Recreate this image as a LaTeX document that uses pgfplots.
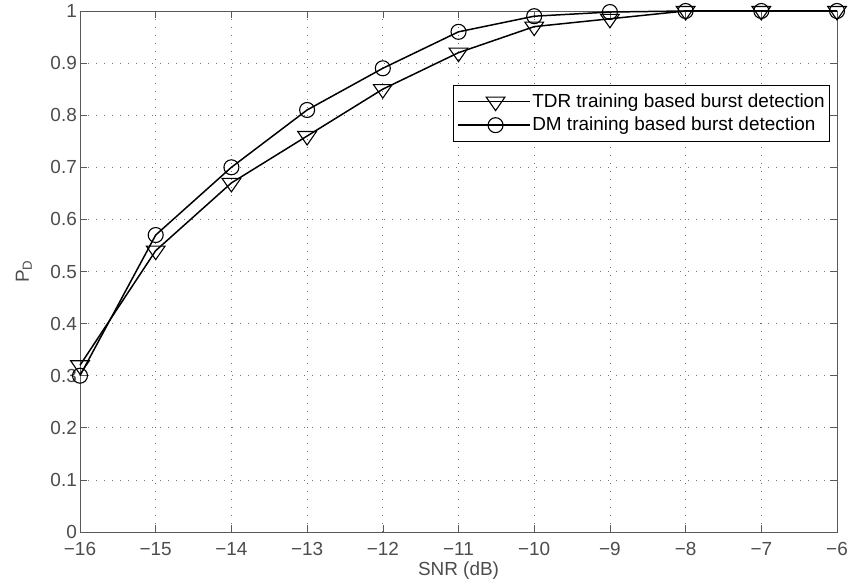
\documentclass[border=0pt]{standalone}
\usepackage{pgfplots}
\pgfplotsset{compat=1.18}
\usepackage{fontspec}
\setmainfont{Liberation Sans}
\begin{document}
\fontsize{19}{21}\selectfont
\begin{tikzpicture}[x=1bp,y=1bp]
\path[use as bounding box] (-80,-51) rectangle (768,532);
\begin{axis}[
  at={(0,0)}, anchor=south west,
  width=757bp, height=521bp, scale only axis,
  xmin=-16, xmax=-6, ymin=0, ymax=1,
  xtick={-16,...,-6},
  xticklabels={−16,−15,−14,−13,−12,−11,−10,−9,−8,−7,−6},
  ytick={0,0.1,...,1},
  yticklabels={0,0.1,0.2,0.3,0.4,0.5,0.6,0.7,0.8,0.9,1},
  tick align=inside, tick pos=both,
  major tick length=7bp,
  tick style={black!65, line width=0.6pt},
  axis line style={black!65, line width=0.8pt},
  ticklabel style={text=black!70, font=\fontsize{19}{21}\selectfont, inner sep=1bp},
  xticklabel style={yshift=-9bp},
  yticklabel style={xshift=-2bp},
  grid=major,
  grid style={dash pattern=on 1bp off 7bp, black!55, line width=0.7pt},
  xlabel={SNR (dB)},
  ylabel={P$_{\mathrm{D}}$},
  label style={text=black!70, font=\fontsize{19}{21}\selectfont},
  xlabel style={yshift=1bp},
  ylabel style={yshift=11bp},
  legend style={at={(0.991,0.858)}, anchor=north east, draw=black, line width=0.8pt,
    font=\fontsize{19}{21}\selectfont, inner ysep=6bp, inner xsep=3pt, row sep=3bp},
  legend cell align=left,
  legend image code/.code={\path (-10bp,0bp) -- (62bp,0bp);
    \draw[line width=1.5pt, mark repeat=2, mark phase=2] plot coordinates {(0bp,0bp) (28bp,0bp) (56bp,0bp)};},
  clip=false,
]
\addplot[black, line width=1.5pt, mark=triangle, mark options={rotate=180, xscale=1.2, solid, fill=white, line width=1.1pt}, mark size=9bp]
  coordinates {(-16,0.32) (-15,0.54) (-14,0.67) (-13,0.76) (-12,0.85) (-11,0.92) (-10,0.97) (-9,0.985) (-8,1) (-7,1) (-6,1)};
\addlegendentry{TDR training based burst detection}
\addplot[black, line width=1.5pt, mark=o, mark options={solid, line width=1.1pt}, mark size=7.5bp]
  coordinates {(-16,0.30) (-15,0.57) (-14,0.70) (-13,0.81) (-12,0.89) (-11,0.96) (-10,0.99) (-9,0.998) (-8,1) (-7,1) (-6,1)};
\addlegendentry{DM training based burst detection}
\end{axis}
\end{tikzpicture}
\end{document}
